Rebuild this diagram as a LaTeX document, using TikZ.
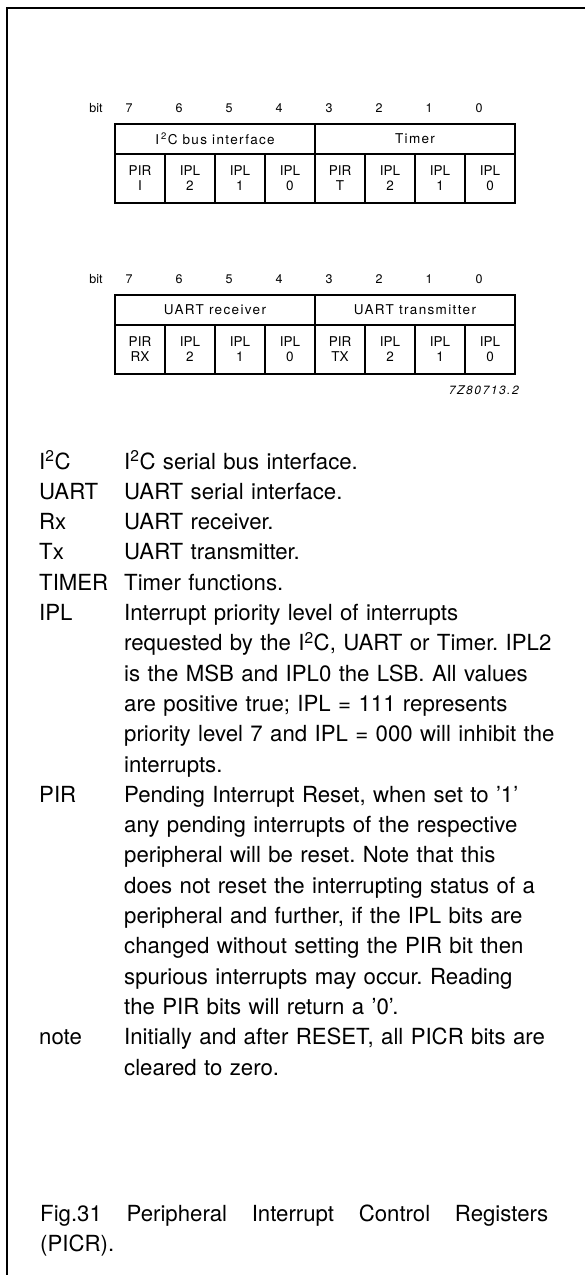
\documentclass[tikz,border=0pt]{standalone}
\usepackage{fontspec}
\setmainfont{TeX Gyre Heros}
\usepackage{tikz}
\frenchspacing

\begin{document}
\begin{tikzpicture}[x=1pt,y=1pt]
\tikzstyle{every node}+=[inner sep=0pt]
\tikzstyle{bitcell}=[draw, line width=1.7pt, minimum width=50pt, minimum height=49pt, align=center, font=\fontsize{13.5}{15}\selectfont]
\tikzstyle{fieldcell}=[draw, line width=1.7pt, minimum width=200pt, minimum height=30pt, font=\fontsize{13.5}{15}\selectfont\addfontfeature{LetterSpace=10}]
\tikzstyle{bitnum}=[anchor=base, font=\fontsize{12.5}{14}\selectfont]
\tikzstyle{leglabel}=[anchor=base west, font=\fontsize{22.2}{30.3}\selectfont]
\tikzstyle{legtext}=[anchor=base west, text width=455pt, align=left, font=\fontsize{22.2}{30.3}\selectfont]
\useasboundingbox (0,0) rectangle (585,-1275);
\fill [white] (0,0) rectangle (585,-1275);
\draw [black, line width=1.5pt] (7,-1275) -- (7,-8) -- (585,-8);
% first register
\node [bitnum] (bit1) at (96,-112.5) {bit};
\node [bitnum] (n17) at (129,-112.5) {7};
\node [bitnum] (n16) at (179,-112.5) {6};
\node [bitnum] (n15) at (229,-112.5) {5};
\node [bitnum] (n14) at (279,-112.5) {4};
\node [bitnum] (n13) at (329,-112.5) {3};
\node [bitnum] (n12) at (379,-112.5) {2};
\node [bitnum] (n11) at (429,-112.5) {1};
\node [bitnum] (n10) at (479,-112.5) {0};
\node [fieldcell] (f1a) at (215,-139) {I\kern2pt\textsuperscript{2}\kern1pt C bus interface};
\node [fieldcell] (f1b) at (415,-139) {Timer};
\node [bitcell] (c17) at (140,-178.5) {PIR\\I};
\node [bitcell] (c16) at (190,-178.5) {IPL\\2};
\node [bitcell] (c15) at (240,-178.5) {IPL\\1};
\node [bitcell] (c14) at (290,-178.5) {IPL\\0};
\node [bitcell] (c13) at (340,-178.5) {PIR\\T};
\node [bitcell] (c12) at (390,-178.5) {IPL\\2};
\node [bitcell] (c11) at (440,-178.5) {IPL\\1};
\node [bitcell] (c10) at (490,-178.5) {IPL\\0};
% second register
\node [bitnum] (bit2) at (96,-283.5) {bit};
\node [bitnum] (n27) at (129,-283.5) {7};
\node [bitnum] (n26) at (179,-283.5) {6};
\node [bitnum] (n25) at (229,-283.5) {5};
\node [bitnum] (n24) at (279,-283.5) {4};
\node [bitnum] (n23) at (329,-283.5) {3};
\node [bitnum] (n22) at (379,-283.5) {2};
\node [bitnum] (n21) at (429,-283.5) {1};
\node [bitnum] (n20) at (479,-283.5) {0};
\node [fieldcell] (f2a) at (215,-310) {UART receiver};
\node [fieldcell] (f2b) at (415,-310) {UART transmitter};
\node [bitcell] (c27) at (140,-349.5) {PIR\\RX};
\node [bitcell] (c26) at (190,-349.5) {IPL\\2};
\node [bitcell] (c25) at (240,-349.5) {IPL\\1};
\node [bitcell] (c24) at (290,-349.5) {IPL\\0};
\node [bitcell] (c23) at (340,-349.5) {PIR\\TX};
\node [bitcell] (c22) at (390,-349.5) {IPL\\2};
\node [bitcell] (c21) at (440,-349.5) {IPL\\1};
\node [bitcell] (c20) at (490,-349.5) {IPL\\0};
\node [anchor=base east, font=\fontsize{12}{14}\selectfont\itshape\addfontfeature{LetterSpace=13}] (code) at (519,-394.5) {7Z80713.2};
% legend
\node [leglabel] (lI2C) at (39,-469) {I\textsuperscript{2}C};
\node [legtext] (dI2C) at (124,-469) {I\textsuperscript{2}C serial bus interface.};
\node [leglabel] (lUART) at (39,-499.3) {UART};
\node [legtext] (dUART) at (124,-499.3) {UART serial interface.};
\node [leglabel] (lRx) at (39,-529.6) {Rx};
\node [legtext] (dRx) at (124,-529.6) {UART receiver.};
\node [leglabel] (lTx) at (39,-559.9) {Tx};
\node [legtext] (dTx) at (124,-559.9) {UART transmitter.};
\node [leglabel] (lTIMER) at (39,-590.2) {TIMER};
\node [legtext] (dTIMER) at (124,-590.2) {Timer functions.};
\node [leglabel] (lIPL) at (39,-620.5) {IPL};
\node [legtext] (dIPL) at (124,-620.5) {Interrupt priority level of interrupts\\
requested by the I\textsuperscript{2}C, UART or Timer. IPL2\\
is the MSB and IPL0 the LSB. All values\\
are positive true; IPL = 111 represents\\
priority level 7 and IPL = 000 will inhibit the\\
interrupts.};
\node [leglabel] (lPIR) at (39,-802.3) {PIR};
\node [legtext] (dPIR) at (124,-802.3) {Pending Interrupt Reset, when set to '1'\\
any pending interrupts of the respective\\
peripheral will be reset. Note that this\\
does not reset the interrupting status of a\\
peripheral and further, if the IPL bits are\\
changed without setting the PIR bit then\\
spurious interrupts may occur. Reading\\
the PIR bits will return a '0'.};
\node [leglabel] (lnote) at (39,-1044.7) {note};
\node [legtext] (dnote) at (124,-1044.7) {Initially and after RESET, all PICR bits are\\
cleared to zero.};
% caption
\node [legtext, text width=508pt] (caption) at (40,-1221) {Fig.31\hfill Peripheral\hfill Interrupt\hfill Control\hfill Registers\\(PICR).};
\end{tikzpicture}
\end{document}
